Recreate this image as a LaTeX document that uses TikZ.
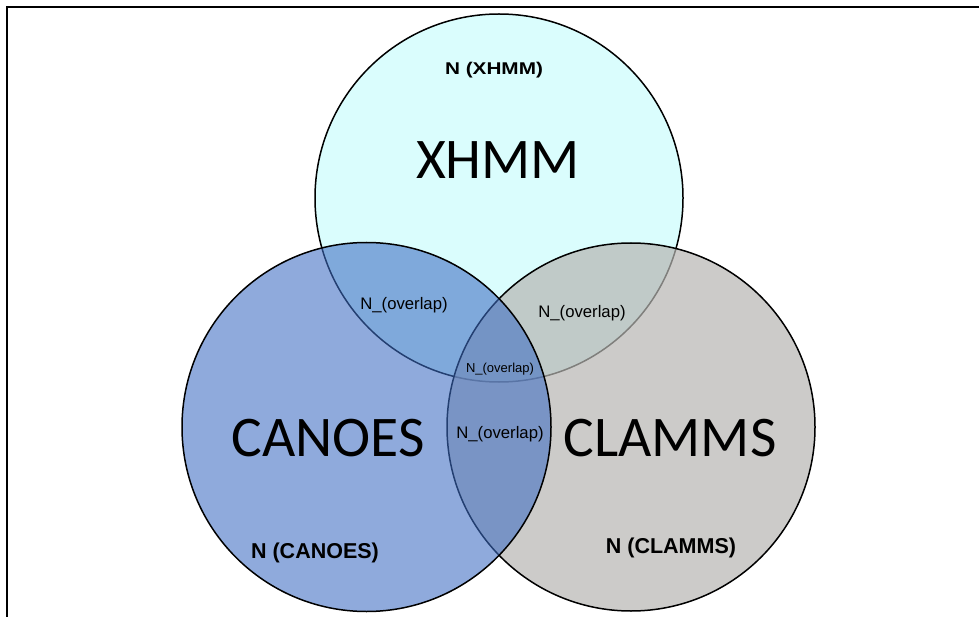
\documentclass[tikz,border=0pt]{standalone}
\usepackage{fontspec}
\newfontfamily\calfont{Carlito}
\newfontfamily\arialfont{Liberation Sans}
\definecolor{xhmmfill}{RGB}{218,253,253}
\definecolor{clammsfill}{RGB}{182,181,178}
\definecolor{canoesfill}{RGB}{62,109,195}
\begin{document}
\begin{tikzpicture}[x=1pt,y=-1pt,
  setcircle/.style={draw=black,line width=1.5pt},
  biglabel/.style={font=\calfont\fontsize{57.5}{60}\selectfont,inner sep=0pt},
  countlabel/.style={font=\arialfont\bfseries\fontsize{17}{20}\selectfont,inner sep=0pt},
  overlaplabel/.style={font=\arialfont\fontsize{16.7}{19}\selectfont,inner sep=0pt}]
\useasboundingbox (0,0) rectangle (979,617);
% frame
\draw[line width=1.4pt] (7,617) -- (7,7) -- (979,7);
% the three sets: XHMM, then CLAMMS, then CANOES on top
\draw[setcircle,fill=xhmmfill] (499,198) circle (184);
\draw[setcircle,fill=clammsfill,fill opacity=0.7] (631,427) circle (184);
\draw[setcircle,fill=canoesfill,fill opacity=0.58] (366.5,427) circle (184.5);
% set names
\node[biglabel] (xhmm) at (498,160) {XHMM};
\node[biglabel] (canoes) at (328,438) {CANOES};
\node[biglabel] (clamms) at (670,438) {CLAMMS};
% set sizes
\node[countlabel,xscale=1.22] (nxhmm) at (494,70) {N (XHMM)};
\node[countlabel,font=\arialfont\bfseries\fontsize{21.5}{24}\selectfont] (ncanoes) at (315,553) {N (CANOES)};
\node[countlabel,font=\arialfont\bfseries\fontsize{21.5}{24}\selectfont] (nclamms) at (671,548) {N (CLAMMS)};
% overlaps
\node[overlaplabel] (oxc) at (404,305) {N\_(overlap)};
\node[overlaplabel] (oxl) at (582,313) {N\_(overlap)};
\node[overlaplabel,font=\arialfont\fontsize{13}{15}\selectfont] (oall) at (500,369) {N\_(overlap)};
\node[overlaplabel] (ocl) at (500,434) {N\_(overlap)};
\end{tikzpicture}
\end{document}
